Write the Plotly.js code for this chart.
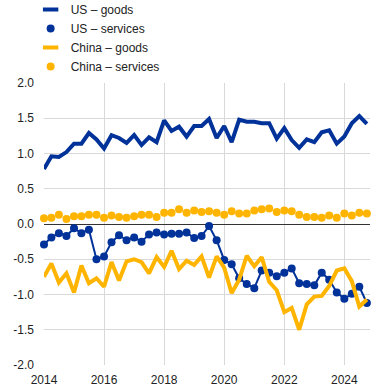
<!DOCTYPE html>
<html>
<head>
<meta charset="utf-8">
<script src="https://cdn.plot.ly/plotly-3.0.1.min.js"></script>
<style>html,body{margin:0;padding:0;background:#fff;}#chart{width:372px;height:390px;}</style>
</head>
<body>
<div id="chart"></div>
<script>
var quarters = [
  "2014-01-01","2014-04-01","2014-07-01","2014-10-01",
  "2015-01-01","2015-04-01","2015-07-01","2015-10-01",
  "2016-01-01","2016-04-01","2016-07-01","2016-10-01",
  "2017-01-01","2017-04-01","2017-07-01","2017-10-01",
  "2018-01-01","2018-04-01","2018-07-01","2018-10-01",
  "2019-01-01","2019-04-01","2019-07-01","2019-10-01",
  "2020-01-01","2020-04-01","2020-07-01","2020-10-01",
  "2021-01-01","2021-04-01","2021-07-01","2021-10-01",
  "2022-01-01","2022-04-01","2022-07-01","2022-10-01",
  "2023-01-01","2023-04-01","2023-07-01","2023-10-01",
  "2024-01-01","2024-04-01","2024-07-01","2024-10-01"
];
var usGoods = [0.78,0.96,0.95,1.02,1.14,1.14,1.29,1.20,1.07,1.26,1.22,1.15,
  1.26,1.12,1.23,1.16,1.47,1.32,1.38,1.24,1.39,1.39,1.49,1.22,
  1.39,1.16,1.48,1.45,1.45,1.43,1.43,1.21,1.36,1.19,1.08,1.20,
  1.16,1.30,1.33,1.14,1.24,1.43,1.53,1.42];
var usServices = [-0.29,-0.19,-0.13,-0.17,-0.06,-0.13,-0.08,-0.50,-0.46,-0.26,-0.16,-0.23,
  -0.19,-0.25,-0.15,-0.12,-0.15,-0.14,-0.14,-0.12,-0.20,-0.17,-0.03,-0.23,
  -0.51,-0.57,-0.77,-0.85,-0.91,-0.66,-0.69,-0.74,-0.69,-0.63,-0.84,-0.85,
  -0.87,-0.69,-0.79,-0.97,-1.06,-0.99,-0.89,-1.12];
var chinaGoods = [-0.75,-0.56,-0.83,-0.70,-0.97,-0.59,-0.84,-0.77,-0.89,-0.54,-0.80,-0.53,
  -0.50,-0.54,-0.70,-0.47,-0.61,-0.38,-0.64,-0.52,-0.58,-0.46,-0.76,-0.46,
  -0.62,-0.98,-0.79,-0.45,-0.60,-0.47,-0.82,-0.94,-1.25,-1.19,-1.50,-1.14,
  -1.03,-1.02,-0.88,-0.66,-0.63,-0.81,-1.17,-1.07];
var chinaServices = [0.08,0.09,0.13,0.07,0.11,0.11,0.13,0.13,0.09,0.12,0.10,0.09,
  0.11,0.13,0.13,0.10,0.16,0.16,0.21,0.16,0.19,0.17,0.18,0.16,
  0.13,0.18,0.15,0.15,0.19,0.21,0.22,0.17,0.19,0.18,0.13,0.10,
  0.10,0.09,0.12,0.09,0.15,0.12,0.16,0.15];
var seriesNames = ["US \u2013 goods","US \u2013 services","China \u2013 goods","China \u2013 services"];
var yTickVals = [-2,-1.5,-1,-0.5,0,0.5,1,1.5,2];
var yTickText = ["-2.0","-1.5","-1.0","-0.5","0.0","0.5","1.0","1.5","2.0"];

var BLUE = "#003299", YELLOW = "#FFB400";

var traces = [
  {x: quarters, y: usGoods, mode: "lines", line: {color: BLUE, width: 4}, showlegend: false, hoverinfo: "skip"},
  {x: quarters, y: usServices, mode: "lines", line: {color: BLUE, width: 2}, showlegend: false, hoverinfo: "skip"},
  {x: quarters, y: usServices, mode: "markers", name: seriesNames[1], legendrank: 2,
   marker: {color: BLUE, size: 8}, cliponaxis: false},
  {x: quarters, y: chinaGoods, mode: "lines", line: {color: YELLOW, width: 4}, showlegend: false, hoverinfo: "skip"},
  {x: quarters, y: chinaServices, mode: "markers", name: seriesNames[3], legendrank: 4,
   marker: {color: YELLOW, size: 8}, cliponaxis: false},
  {x: [null], y: [null], mode: "markers", name: seriesNames[0], legendrank: 1,
   marker: {symbol: "line-ew", size: 11, color: BLUE, line: {color: BLUE, width: 4}}},
  {x: [null], y: [null], mode: "markers", name: seriesNames[2], legendrank: 3,
   marker: {symbol: "line-ew", size: 11, color: YELLOW, line: {color: YELLOW, width: 4}}}
];

var layout = {
  width: 372, height: 390,
  margin: {l: 43.5, r: 2, t: 83, b: 25, pad: 0, autoexpand: false},
  paper_bgcolor: "#ffffff", plot_bgcolor: "#ffffff",
  font: {family: "Arial, 'Liberation Sans', sans-serif", size: 12, color: "#222222"},
  showlegend: true,
  legend: {x: -0.041, xanchor: "left", y: 1.312, yanchor: "top", bgcolor: "rgba(0,0,0,0)",
    font: {size: 12, color: "#222222"}, traceorder: "normal"},
  xaxis: {type: "date", range: ["2014-01-01", "2024-11-08"], tickformat: "%Y",
    dtick: "M24", tick0: "2014-01-01", showgrid: true, gridcolor: "#d9d9d9", gridwidth: 1,
    zeroline: false, showline: false, ticks: "", ticklabelstandoff: 6, fixedrange: true},
  yaxis: {range: [-2, 2], tickmode: "array", tickvals: yTickVals, ticktext: yTickText,
    showgrid: true, gridcolor: "#d9d9d9", gridwidth: 1,
    zeroline: true, zerolinecolor: "#333333", zerolinewidth: 1,
    showline: false, ticks: "", ticklabelstandoff: 9, fixedrange: true}
};

Plotly.newPlot("chart", traces, layout, {displayModeBar: false, staticPlot: true});
</script>
</body>
</html>
